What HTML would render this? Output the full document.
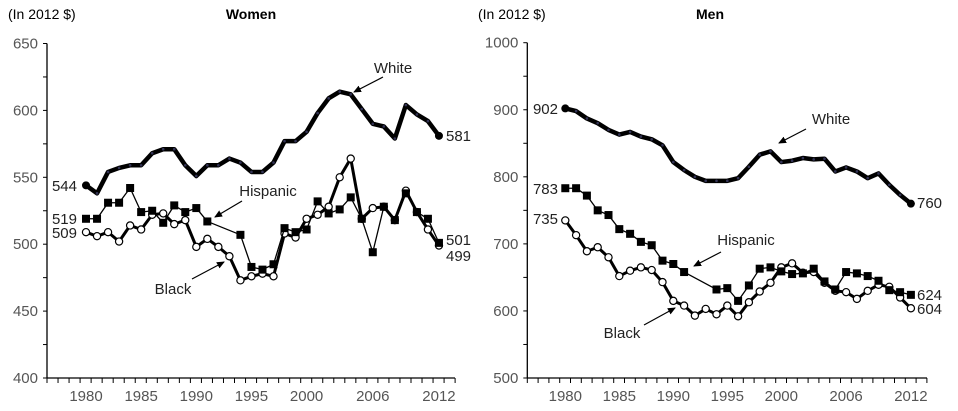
<!DOCTYPE html>
<html><head><meta charset="utf-8"><style>
html,body{margin:0;padding:0;background:#fff;width:958px;height:411px;overflow:hidden}
svg text{font-family:"Liberation Sans",Arial,sans-serif}
</style></head><body>
<svg id="s" width="958" height="411" xmlns="http://www.w3.org/2000/svg"></svg>
<script>
const S=document.getElementById('s');let h='';
h+='<defs><marker id="ar" markerWidth="8" markerHeight="8" refX="7" refY="4" orient="auto" markerUnits="userSpaceOnUse"><path d="M0,0.5 L8,4 L0,7.5 z" fill="#000"/></marker></defs>';
function chart(o){
 const {ax,ay0,ay1,vmin,vmax,x0,dx,xend}=o;
 const Y=v=>ay1-(v-vmin)*(ay1-ay0)/(vmax-vmin);
 const X=yr=>x0+(yr-1980)*dx;
 h+=`<line x1="${ax}" y1="${ay0}" x2="${ax}" y2="${ay1}" stroke="#000" stroke-width="1.3"/>`;
 h+=`<line x1="${ax}" y1="${ay1}" x2="${xend}" y2="${ay1}" stroke="#000" stroke-width="1.3"/>`;
 const step=(vmax-vmin)/10;
 for(let i=0;i<=10;i++){const v=vmin+i*step,y=Y(v);h+=`<line x1="${ax-4}" y1="${y}" x2="${ax}" y2="${y}" stroke="#000"/>`;
  if(i%2==0)h+=`<text x="${ax-9}" y="${y+5}" font-size="15" fill="#555" text-anchor="end">${v}</text>`;}
 for(let x=ax;x<=xend+0.5;x+=dx){h+=`<line x1="${x}" y1="${ay1}" x2="${x}" y2="${ay1+5}" stroke="#000"/>`;}
 [1980,1985,1990,1995,2000,2006,2012].forEach(yr=>h+=`<text x="${X(yr)}" y="${ay1+23}" font-size="15" fill="#555" text-anchor="middle">${yr}</text>`);
 function series(d,w,mk){let pts=[];for(const k in d){pts.push([X(+k),Y(d[k])]);}
  h+=`<polyline points="${pts.map(p=>p.join(',')).join(' ')}" fill="none" stroke="#000" stroke-width="${w}" stroke-linejoin="round"/>`;
  pts.forEach(p=>{if(mk=='sq')h+=`<rect x="${p[0]-4}" y="${p[1]-4}" width="8" height="8" fill="#000"/>`;
   else if(mk=='o')h+=`<circle cx="${p[0]}" cy="${p[1]}" r="3.6" fill="#fff" stroke="#000" stroke-width="1.2"/>`;
   else h+=`<circle cx="${p[0]}" cy="${p[1]}" r="1.3" fill="#335"/>`;});}
 const mk=a=>{const d={};a.forEach((v,i)=>{if(v!=null)d[1980+i]=v});return d;};
 series(mk(o.b),3,'o');
 series(mk(o.hi),1.3,'sq');
 series(mk(o.w),4.5,'d');
 const [fx,fy]=[X(1980),Y(o.w[0])];h+=`<circle cx="${fx}" cy="${fy}" r="4" fill="#000"/>`;
 h+=`<circle cx="${X(2012)}" cy="${Y(o.w[32])}" r="4" fill="#000"/>`;
}
const N=null;
chart({ax:47,ay0:43.5,ay1:378,vmin:400,vmax:650,x0:86,dx:11.03,xend:455,
 w:[544,538,554,557,559,559,568,571,571,559,551,559,559,564,561,554,554,561,577,577,584,598,609,614,612,601,590,588,579,604,597,592,581],
 hi:[519,519,531,531,542,524,525,516,529,524,527,517,N,N,507,483,481,485,512,509,511,532,523,526,535,519,494,528,518,538,524,519,501],
 b:[509,506,509,502,514,511,522,523,515,518,498,504,498,491,473,476,478,476,508,505,519,522,528,550,564,519,527,528,518,540,524,511,499]});
chart({ax:527.3,ay0:42.7,ay1:378,vmin:500,vmax:1000,x0:565.3,dx:10.8,xend:927,
 w:[902,898,887,880,870,863,867,860,856,847,822,810,800,794,794,794,798,815,833,838,822,824,828,826,827,808,814,808,798,805,788,773,760],
 hi:[783,783,772,750,743,722,715,703,698,675,670,658,N,N,632,634,615,638,663,665,659,655,656,663,644,632,658,656,652,645,631,628,624],
 b:[735,713,689,695,680,652,660,665,661,643,615,608,593,603,595,608,592,613,629,642,665,671,657,658,642,630,628,618,630,639,636,620,604]});
const T=(x,y,t,a,s,b,c)=>h+=`<text x="${x}" y="${y}" font-size="${s||15}" text-anchor="${a||'start'}" fill="${c||'#222'}" ${b?'font-weight="bold"':''}>${t}</text>`;
T(8,19,'(In 2012 $)','start',14,0,'#000');T(251,19,'Women','middle',14,1,'#000');
T(478,19,'(In 2012 $)','start',14,0,'#000');T(710,19,'Men','middle',14,1,'#000');
const A=(x1,y1,x2,y2)=>h+=`<line x1="${x1}" y1="${y1}" x2="${x2}" y2="${y2}" stroke="#000" stroke-width="1.2" marker-end="url(#ar)"/>`;
T(393,73,'White','middle');A(383,77,354,92);
T(268,196,'Hispanic','middle');A(242,201,215,217);
T(173,294,'Black','middle');A(192,279,224,262);
T(77,191,'544','end');T(77,224,'519','end');T(77,238,'509','end');
T(446,141,'581');T(446,245,'501');T(446,261,'499');
T(831,124,'White','middle');A(806,129,779,143);
T(746,245,'Hispanic','middle');A(721,252,694,266);
T(622,338,'Black','middle');A(644,325,675,308);
T(558,114,'902','end');T(558,194,'783','end');T(558,224,'735','end');
T(917,208,'760');T(917,300,'624');T(917,314,'604');
S.innerHTML=h;
</script>
</body></html>
